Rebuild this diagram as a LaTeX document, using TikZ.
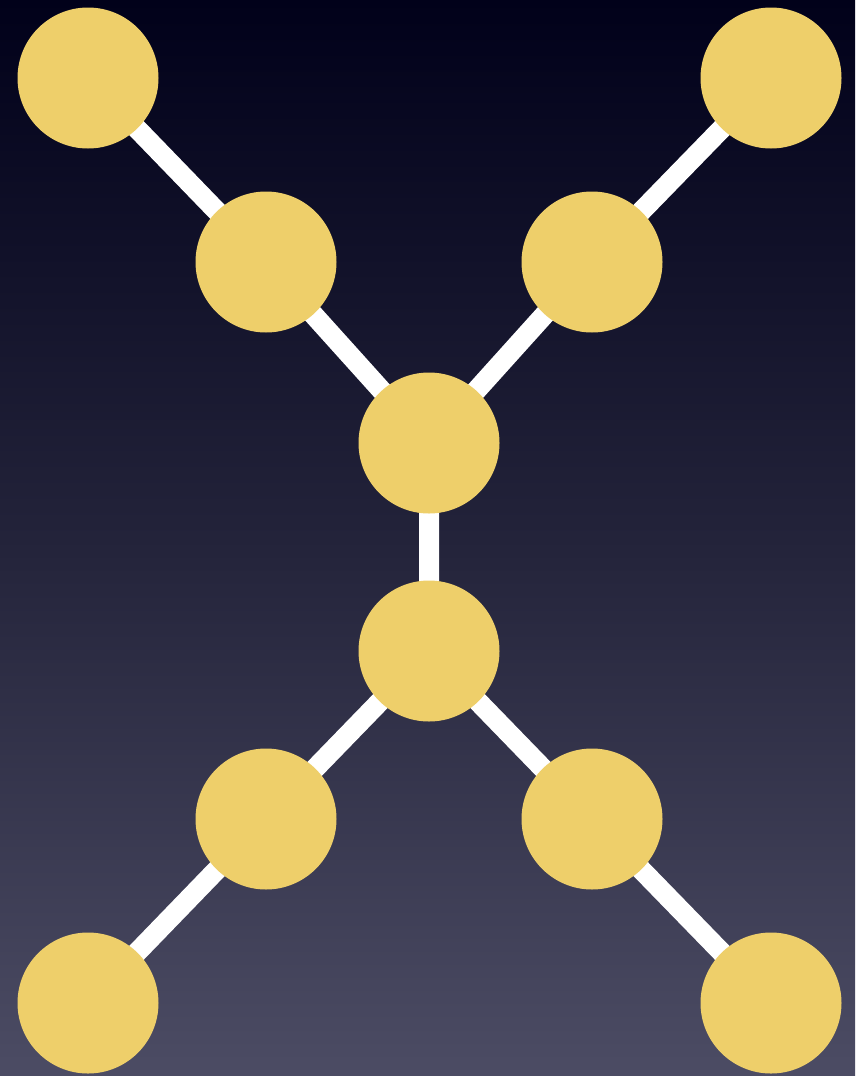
\documentclass[tikz,border=0pt]{standalone}
\usetikzlibrary{backgrounds}
\definecolor{bgtop}{HTML}{01011A}
\definecolor{bgmid}{HTML}{23233A}
\definecolor{bgbot}{HTML}{4C4C64}
\definecolor{ball}{HTML}{EECF6A}
\begin{document}
\begin{tikzpicture}[x=1pt,y=-1pt,
  ballnode/.style={circle,fill=ball,minimum size=141pt,inner sep=0pt},
  link/.style={draw=white,line width=20pt}]
\useasboundingbox (0,0) rectangle (855,1076);
\node[ballnode] (tl) at (88,78) {};
\node[ballnode] (tr) at (771,78) {};
\node[ballnode] (l1) at (266,262) {};
\node[ballnode] (r1) at (592,262) {};
\node[ballnode] (c1) at (429,443) {};
\node[ballnode] (c2) at (429,651) {};
\node[ballnode] (l2) at (266,819) {};
\node[ballnode] (r2) at (592,819) {};
\node[ballnode] (bl) at (88,1003) {};
\node[ballnode] (br) at (771,1003) {};
\begin{scope}[on background layer]
\shade[top color=bgtop,bottom color=bgbot,middle color=bgmid] (0,0) rectangle (855,1076);
\path[link] (tl.center) -- (l1.center) (l1.center) -- (c1.center)
  (tr.center) -- (r1.center) (r1.center) -- (c1.center)
  (c1.center) -- (c2.center)
  (c2.center) -- (l2.center) (l2.center) -- (bl.center)
  (c2.center) -- (r2.center) (r2.center) -- (br.center);
\end{scope}
\end{tikzpicture}
\end{document}
